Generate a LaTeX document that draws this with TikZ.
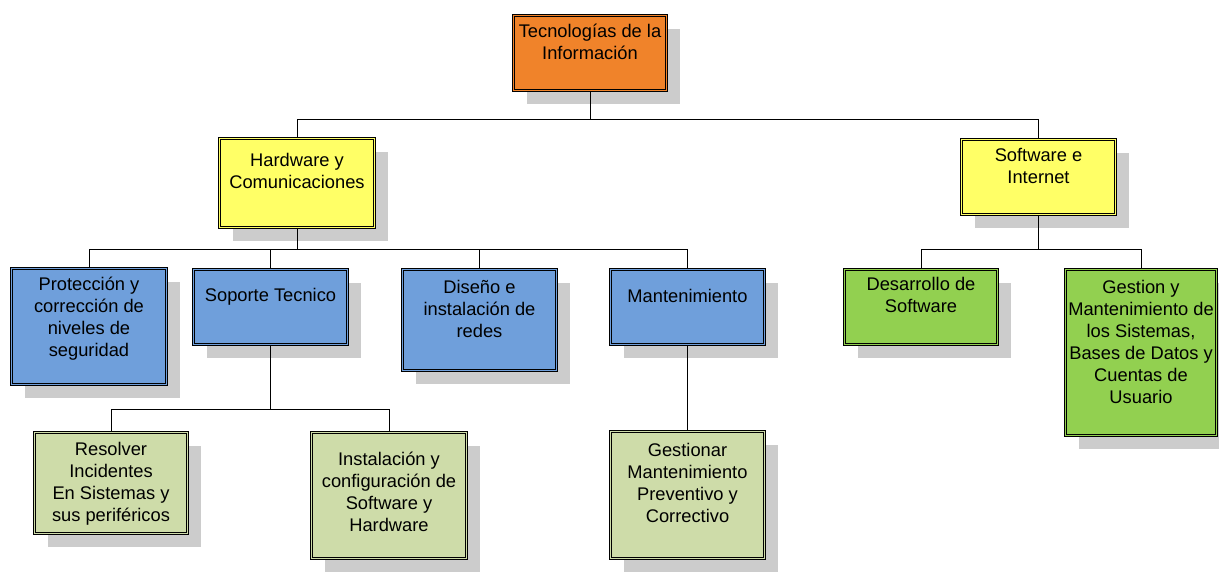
\documentclass[tikz,border=0pt]{standalone}
\usepackage{fontspec}
\setmainfont{Liberation Sans}
\usetikzlibrary{shadows}
\definecolor{naranja}{HTML}{F0832A}
\definecolor{amarillo}{HTML}{FFFF66}
\definecolor{azul}{HTML}{6F9FDB}
\definecolor{verde}{HTML}{92D050}
\definecolor{verdeclaro}{HTML}{CEDCA9}
\tikzset{
  caja/.style={draw=black, line width=0.7pt, double distance=1.4pt, inner sep=0pt,
    font=\fontsize{18.3}{22}\selectfont,
    drop shadow={shadow xshift=13pt, shadow yshift=-13pt, fill=black!20, opacity=1}},
  linea/.style={line width=0.9pt}
}
\begin{document}
\begin{tikzpicture}[x=1pt,y=-1pt]
\useasboundingbox (0,0) rectangle (1219,574);
% cajas: nombre/x1/y1/x2/y2/color/margen/texto
\foreach \n/\xa/\ya/\xb/\yb/\col/\pad/\txt in {
    tec/512/14/668/92/naranja/6.1/{Tecnologías de la\\Información},
    hw/218/137/376/229/amarillo/12.8/{Hardware y\\Comunicaciones},
    sw/960/138/1117/216/amarillo/6.8/{Software e\\Internet},
    pro/10/267/168/386/azul/6.1/{Protección y\\corrección de\\niveles de\\seguridad},
    sop/192/268/349/346/azul/16.8/{Soporte Tecnico},
    dis/401/268/558/372/azul/8.4/{Diseño e\\instalación de\\redes},
    man/609/268/766/346/azul/17.4/{Mantenimiento},
    des/843/268/999/346/verde/5.8/{Desarrollo de\\Software},
    ges/1064/268/1218/437/verde/8.4/{Gestion y\\Mantenimiento de\\los Sistemas,\\Bases de Datos y\\Cuentas de\\Usuario},
    res/33/431/189/535/verdeclaro/7.1/{Resolver\\Incidentes\\En Sistemas y\\sus periféricos},
    ins/310/431/468/560/verdeclaro/17.1/{Instalación y\\configuración de\\Software y\\Hardware},
    gmp/609/430/766/560/verdeclaro/9.8/{Gestionar\\Mantenimiento\\Preventivo y\\Correctivo}} {
    \pgfmathsetmacro\w{\xb-\xa-3}
    \pgfmathsetmacro\h{\yb-\ya-3}
    \node[caja, fill=\col, double=\col, minimum width=\w pt, minimum height=\h pt]
        (\n) at ({(\xa+\xb)/2},{(\ya+\yb)/2})
        {\parbox[c][\h pt][t]{\w pt}{\centering\vspace*{\pad pt}\strut\txt}};
}
% conectores
\draw[linea] (tec.south) -- ++(0,29) coordinate (b1) -| (hw.north);
\draw[linea] (b1) -| (sw.north);
\draw[linea] (hw.south) -- ++(0,22) coordinate (b2);
\foreach \c in {pro,sop,dis,man}
    \draw[linea] (b2) -| (\c.north);
\draw[linea] (sw.south) -- ++(0,35) coordinate (b3);
\foreach \c in {des,ges}
    \draw[linea] (b3) -| (\c.north);
\draw[linea] (sop.south) -- ++(0,65) coordinate (b4);
\foreach \c in {res,ins}
    \draw[linea] (b4) -| (\c.north);
\draw[linea] (man.south) -- (gmp.north);
\end{tikzpicture}
\end{document}
